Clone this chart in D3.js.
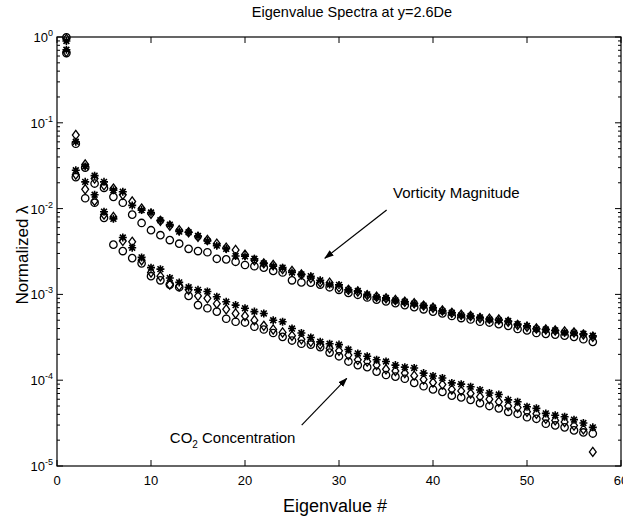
<!DOCTYPE html>
<html>
<head>
<meta charset="utf-8">
<script src="https://cdn.jsdelivr.net/npm/d3@7"></script>
<style>
  body { margin: 0; background: #fff; }
  text { font-family: "Liberation Sans", Arial, Helvetica, sans-serif; fill: #000; }
</style>
</head>
<body>
<div id="chart"></div>
<script>
// eigenvalue number (x)
const eigenIndex = [1,2,3,4,5,6,7,8,9,10,11,12,13,14,15,16,17,18,19,20,21,22,23,24,25,26,27,28,29,30,
  31,32,33,34,35,36,37,38,39,40,41,42,43,44,45,46,47,48,49,50,51,52,53,54,55,56,57];

// vorticity magnitude spectra (upper group)
const vortDiamond = [0.95,0.072,0.0326,0.0224,0.0187,0.0171,0.0145,0.0121,0.010,0.0087,0.0072,0.0063,0.0056,0.0053,0.0047,
  0.0043,0.0039,0.0035,0.0033,0.0029,0.0025,0.0023,0.0022,0.00197,0.00188,0.00171,0.00155,0.00138,0.00137,0.00121,
  0.00113,0.00108,0.00098,0.00094,0.0009,0.00086,0.00082,0.00079,0.00074,0.00070,0.00065,0.00061,0.00058,0.00056,0.00053,
  0.00052,0.00051,0.00048,0.00044,0.00042,0.00040,0.00039,0.00038,0.00037,0.00036,0.00034,0.00032];
const vortStar = [0.90,0.060,0.031,0.0242,0.0205,0.0164,0.0157,0.0109,0.0096,0.009,0.0073,0.0065,0.0054,0.0053,0.0048,
  0.0042,0.0037,0.0034,0.0028,0.00278,0.0026,0.0023,0.00213,0.00205,0.0018,0.00171,0.00163,0.00146,0.0013,0.00129,
  0.00113,0.0011,0.001,0.00093,0.00091,0.00085,0.00082,0.00078,0.00074,0.0007,0.00064,0.00061,0.00057,0.00056,0.00054,
  0.00051,0.0005,0.00049,0.00045,0.00043,0.000395,0.00039,0.00038,0.00036,0.000355,0.000347,0.00033];
const vortCircle = [0.99,0.057,0.030,0.0196,0.0174,0.0137,0.0117,0.0085,0.0068,0.0056,0.0049,0.0043,0.0039,0.0034,0.0032,
  0.0031,0.0026,0.00256,0.0024,0.0022,0.00213,0.00205,0.00188,0.0018,0.00146,0.00138,0.00137,0.0013,0.00121,0.00113,
  0.00104,0.00099,0.00092,0.00087,0.00083,0.00079,0.00075,0.00071,0.00067,0.00063,0.0006,0.00056,0.00053,0.00051,0.00048,
  0.00047,0.00045,0.00043,0.000395,0.00038,0.000355,0.000347,0.00034,0.00033,0.00032,0.0003,0.00028];

// CO2 concentration spectra (lower group)
const co2Star = [0.71,0.028,0.0205,0.0145,0.0092,0.0076,0.0046,0.0035,0.0027,0.00205,0.00197,0.00155,0.00138,0.00121,0.00113,
  0.00108,0.00094,0.00082,0.00075,0.00069,0.00063,0.0006,0.0005,0.00048,0.0004,0.000355,0.000315,0.00028,0.000266,0.00026,
  0.000228,0.000205,0.00019,0.000173,0.000165,0.00015,0.000142,0.000139,0.000121,0.000112,0.000106,0.000093,0.00009,0.000084,0.000077,
  0.000071,0.000068,0.000059,0.000056,0.000049,0.000047,0.000041,0.000039,0.0000375,0.0000347,0.0000317,0.0000282];
const co2Diamond = [0.67,0.025,0.0168,0.0123,0.0085,0.008,0.0042,0.0041,0.0025,0.0018,0.00163,0.0013,0.00125,0.00113,0.00096,
  0.0009,0.00078,0.00067,0.0006,0.00056,0.0005,0.00043,0.00039,0.00036,0.00033,0.0003,0.00028,0.00026,0.000235,0.00022,
  0.000196,0.000173,0.000165,0.00015,0.000134,0.000128,0.000121,0.000113,0.000102,0.000094,0.000089,0.000078,0.000075,0.00007,0.000064,
  0.00006,0.000056,0.00005,0.000048,0.0000428,0.0000406,0.0000355,0.000034,0.0000326,0.0000296,0.0000267,0.0000146];
const co2Circle = [0.65,0.0233,0.0132,0.0117,0.0078,0.0038,0.0032,0.00265,0.0023,0.00163,0.00146,0.0013,0.00121,0.00096,0.00075,
  0.00069,0.00063,0.00052,0.00048,0.00047,0.00042,0.00039,0.000355,0.00032,0.00029,0.000266,0.00026,0.000243,0.00021,0.00019,
  0.000165,0.00015,0.000142,0.000126,0.000115,0.00011,0.000104,0.000093,0.000085,0.000078,0.000073,0.000066,0.000063,0.000059,0.000054,
  0.00005,0.000047,0.0000428,0.0000406,0.000037,0.0000355,0.0000311,0.0000297,0.0000282,0.000026,0.0000246,0.0000239];

const xTickValues = [0, 10, 20, 30, 40, 50, 60];
const yTickValues = [1, 0.1, 0.01, 0.001, 0.0001, 0.00001];
const yTickExponents = ["0", "-1", "-2", "-3", "-4", "-5"];

const width = 623, height = 521;
const plotLeft = 57, plotRight = 621, plotTop = 37, plotBottom = 466;

const svg = d3.select('#chart').append('svg')
    .attr('width', width)
    .attr('height', height);

const x = d3.scaleLinear().domain([0, 60]).range([plotLeft, plotRight]);
const y = d3.scaleLog().domain([1e-5, 1]).range([plotBottom, plotTop]);

// arrow head
svg.append('defs').append('marker')
    .attr('id', 'head')
    .attr('viewBox', '0 0 10 10')
    .attr('refX', 9).attr('refY', 5)
    .attr('markerWidth', 8).attr('markerHeight', 8)
    .attr('orient', 'auto')
    .append('path')
    .attr('d', 'M0,1.5 L10,5 L0,8.5 Z')
    .attr('fill', '#000');

// axes box
svg.append('rect')
    .attr('x', plotLeft).attr('y', plotTop)
    .attr('width', plotRight - plotLeft).attr('height', plotBottom - plotTop)
    .attr('fill', 'none').attr('stroke', '#000').attr('stroke-width', 1.2);

// x ticks, inside on bottom and top
const xt = svg.append('g');
xt.selectAll('line.xb').data(xTickValues).enter().append('line')
    .attr('x1', d => x(d)).attr('x2', d => x(d))
    .attr('y1', plotBottom).attr('y2', plotBottom - 6)
    .attr('stroke', '#000');
xt.selectAll('line.xt').data(xTickValues).enter().append('line')
    .attr('x1', d => x(d)).attr('x2', d => x(d))
    .attr('y1', plotTop).attr('y2', plotTop + 6)
    .attr('stroke', '#000');
xt.selectAll('text').data(xTickValues).enter().append('text')
    .attr('x', d => x(d)).attr('y', plotBottom + 19)
    .attr('text-anchor', 'middle')
    .attr('font-size', 13)
    .text(d => d);

// y ticks (log): major and minor, inside on left and right
const yAll = y.ticks();
const yt = svg.append('g');
yt.selectAll('line.yl').data(yAll).enter().append('line')
    .attr('x1', plotLeft).attr('x2', d => plotLeft + (yTickValues.includes(d) ? 6 : 3))
    .attr('y1', d => y(d)).attr('y2', d => y(d))
    .attr('stroke', '#000');
yt.selectAll('line.yr').data(yAll).enter().append('line')
    .attr('x1', plotRight).attr('x2', d => plotRight - (yTickValues.includes(d) ? 6 : 3))
    .attr('y1', d => y(d)).attr('y2', d => y(d))
    .attr('stroke', '#000');
const ylab = yt.selectAll('text').data(yTickValues).enter().append('text')
    .attr('x', plotLeft - 4).attr('y', d => y(d) + 5)
    .attr('text-anchor', 'end')
    .attr('font-size', 13);
ylab.append('tspan').text('10');
ylab.append('tspan').attr('dy', -6).attr('font-size', 9).text((d, i) => yTickExponents[i]);

// series
const series = [
    { vals: vortCircle, shape: 'circle' },
    { vals: co2Circle, shape: 'circle' },
    { vals: vortDiamond, shape: 'diamond' },
    { vals: co2Diamond, shape: 'diamond' },
    { vals: vortStar, shape: 'star' },
    { vals: co2Star, shape: 'star' }
];
const shapes = {
    circle: 'M3.7,0A3.7,3.7 0 1,1 -3.7,0A3.7,3.7 0 1,1 3.7,0Z',
    diamond: 'M0,-4.6L3.4,0L0,4.6L-3.4,0Z',
    star: 'M-4,0H4M0,-4V4M-2.9,-2.9L2.9,2.9M-2.9,2.9L2.9,-2.9'
};
series.forEach(s => {
    svg.append('g').selectAll('path')
        .data(eigenIndex.map((n, i) => ({ n: n, v: s.vals[i] })))
        .enter().append('path')
        .attr('transform', d => `translate(${x(d.n)},${y(d.v)})`)
        .attr('d', shapes[s.shape])
        .attr('fill', 'none')
        .attr('stroke', '#000')
        .attr('stroke-width', s.shape === 'star' ? 1.6 : 1.3);
});

// annotations
svg.append('line')
    .attr('x1', x(35.07)).attr('y1', y(0.00963))
    .attr('x2', x(28.5)).attr('y2', y(0.00264))
    .attr('stroke', '#000').attr('stroke-width', 1.2)
    .attr('marker-end', 'url(#head)');
svg.append('text')
    .attr('x', x(35.74)).attr('y', y(0.0133))
    .attr('font-size', 15)
    .text('Vorticity Magnitude');

svg.append('line')
    .attr('x1', x(26.03)).attr('y1', y(0.00003))
    .attr('x2', x(30.82)).attr('y2', y(0.000105))
    .attr('stroke', '#000').attr('stroke-width', 1.2)
    .attr('marker-end', 'url(#head)');
const co2 = svg.append('text')
    .attr('x', x(12)).attr('y', y(0.0000185))
    .attr('font-size', 15);
co2.append('tspan').text('CO');
co2.append('tspan').attr('dy', 5).attr('font-size', 10).text('2');
co2.append('tspan').attr('dy', -5).text(' Concentration');

// titles
svg.append('text')
    .attr('x', 352).attr('y', 17)
    .attr('text-anchor', 'middle')
    .attr('font-size', 14.5)
    .text('Eigenvalue Spectra at y=2.6De');
svg.append('text')
    .attr('x', 335).attr('y', 512)
    .attr('text-anchor', 'middle')
    .attr('font-size', 18)
    .text('Eigenvalue #');
svg.append('text')
    .attr('transform', `translate(28,255) rotate(-90)`)
    .attr('text-anchor', 'middle')
    .attr('font-size', 17)
    .text('Normalized λ');
</script>
</body>
</html>
